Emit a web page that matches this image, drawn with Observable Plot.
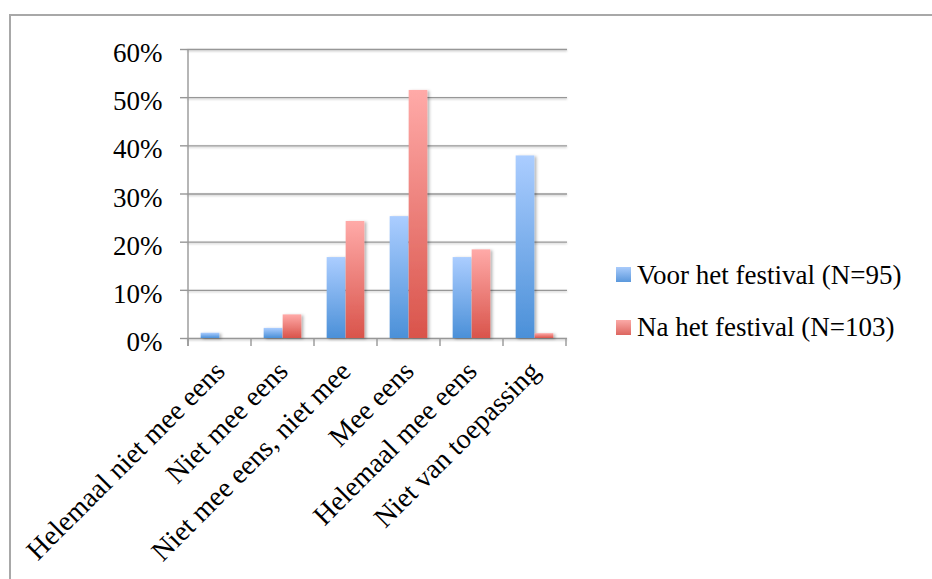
<!DOCTYPE html>
<html>
<head>
<meta charset="utf-8">
<script src="https://cdn.jsdelivr.net/npm/d3@7"></script>
<script src="https://cdn.jsdelivr.net/npm/@observablehq/plot@0.6"></script>
<style>
  html, body { margin: 0; padding: 0; background: #fff; }
  body { width: 932px; height: 579px; overflow: hidden; position: relative; font-family: "Liberation Serif", "Times New Roman", serif; }
  #frame { position: absolute; left: 9px; top: 14px; width: 960px; height: 600px; border: 2px solid #a8a8a8; box-sizing: border-box; }
  #chart { position: absolute; left: 0; top: 0; }
  .legend-swatch { position: absolute; width: 15px; height: 15px; }
  .legend-label { position: absolute; font-size: 27px; line-height: 27px; color: #000; white-space: nowrap; }
</style>
</head>
<body>
<div id="frame"></div>
<div id="chart"></div>
<div id="legend"></div>
<script>
// Answer categories (x axis)
const categories = [
  "Helemaal niet mee eens",
  "Niet mee eens",
  "Niet mee eens, niet mee",
  "Mee eens",
  "Helemaal mee eens",
  "Niet van toepassing"
];
// Share of respondents per answer, in percent
const voorPct = [1.1, 2.1, 16.8, 25.3, 16.8, 37.9];   // before the festival, N=95
const naPct   = [0.0, 4.9, 24.3, 51.5, 18.4, 1.0];    // after the festival, N=103
const seriesLabels = ["Voor het festival (N=95)", "Na het festival (N=103)"];
const yTicks = [0, 10, 20, 30, 40, 50, 60];

const rows = categories.map((c, i) => ({categorie: c, voor: voorPct[i], na: naPct[i]}));

const W = 600, H = 579;
const mL = 187, mR = 33;
const bw = (W - mL - mR) / categories.length;
const gridColor = "#979797";

const chart = Plot.plot({
  width: W,
  height: H,
  marginLeft: mL,
  marginRight: mR,
  marginTop: 49,
  marginBottom: 241,
  style: {fontFamily: "'Liberation Serif', 'Times New Roman', serif", fontSize: "27px", color: "#000", background: "transparent", overflow: "visible"},
  x: {domain: categories, padding: 0, label: null},
  y: {domain: [0, 60], label: null},
  marks: [
    Plot.ruleY(yTicks, {stroke: gridColor, strokeWidth: 1.4}),
    Plot.barY(rows, {x: "categorie", y: "voor", fill: "url(#gradVoor)", insetLeft: bw * 0.2, insetRight: bw * 0.5}),
    Plot.barY(rows, {x: "categorie", y: "na", fill: "url(#gradNa)", insetLeft: bw * 0.5, insetRight: bw * 0.2}),
    Plot.axisY({ticks: yTicks, tickSize: 7, tickFormat: () => "", stroke: gridColor, strokeWidth: 1.4, label: null}),
    Plot.text(yTicks, {y: d => d, text: d => d + "%", frameAnchor: "left", textAnchor: "end", dx: -25, dy: 4, fontSize: 27, fill: "#000"}),
    Plot.axisX({tickSize: 0, tickRotate: -45, tickPadding: 28, fontSize: 28, fill: "#000", label: null})
  ]
});
document.getElementById("chart").append(chart);

// Gradients and soft shadows used by the bars and grid
const svg = d3.select(chart);
const defs = svg.insert("defs", ":first-child");
function gradient(id, top, bottom) {
  const g = defs.append("linearGradient").attr("id", id).attr("x1", 0).attr("y1", 0).attr("x2", 0).attr("y2", 1);
  g.append("stop").attr("offset", "0%").attr("stop-color", top);
  g.append("stop").attr("offset", "100%").attr("stop-color", bottom);
}
gradient("gradVoor", "#abcdff", "#4b90d8");
gradient("gradNa", "#ffaaa8", "#d9544b");
const shadow = defs.append("filter").attr("id", "barShadow").attr("x", "-30%").attr("y", "-10%").attr("width", "170%").attr("height", "130%");
shadow.append("feDropShadow").attr("dx", 2).attr("dy", 1).attr("stdDeviation", 1.8).attr("flood-color", "#000").attr("flood-opacity", 0.3);
const lineShadow = defs.append("filter").attr("id", "lineShadow").attr("x", "-5%").attr("y", "-200%").attr("width", "110%").attr("height", "500%");
lineShadow.append("feDropShadow").attr("dx", 0).attr("dy", 1).attr("stdDeviation", 0.8).attr("flood-color", "#000").attr("flood-opacity", 0.25);
svg.selectAll("g[aria-label='bar']").attr("filter", "url(#barShadow)");
svg.selectAll("g[aria-label='rule']").attr("filter", "url(#lineShadow)");

// Category boundary ticks and the vertical axis line, placed with the plot's scales
const xs = chart.scale("x"), ys = chart.scale("y");
const edges = categories.map(c => xs.apply(c)).concat([xs.apply(categories[categories.length - 1]) + xs.bandwidth]);
const y0 = ys.apply(0), yTop = ys.apply(60);
const axisG = svg.append("g").attr("stroke", gridColor).attr("stroke-width", 1.4);
axisG.append("line").attr("x1", edges[0]).attr("x2", edges[0]).attr("y1", yTop).attr("y2", y0 + 8);
edges.forEach(x => axisG.append("line").attr("x1", x).attr("x2", x).attr("y1", y0).attr("y2", y0 + 8));

// Legend beside the plot
const legend = document.getElementById("legend");
const swatchFills = ["linear-gradient(#a9cbfb, #5b98dc)", "linear-gradient(#fbaaa7, #dd6660)"];
seriesLabels.forEach((label, i) => {
  const sw = document.createElement("div");
  sw.className = "legend-swatch";
  sw.style.left = "616px";
  sw.style.top = (267 + i * 53) + "px";
  sw.style.background = swatchFills[i];
  legend.append(sw);
  const tx = document.createElement("div");
  tx.className = "legend-label";
  tx.style.left = "637px";
  tx.style.top = (262 + i * 52) + "px";
  tx.textContent = label;
  legend.append(tx);
});
</script>
</body>
</html>
